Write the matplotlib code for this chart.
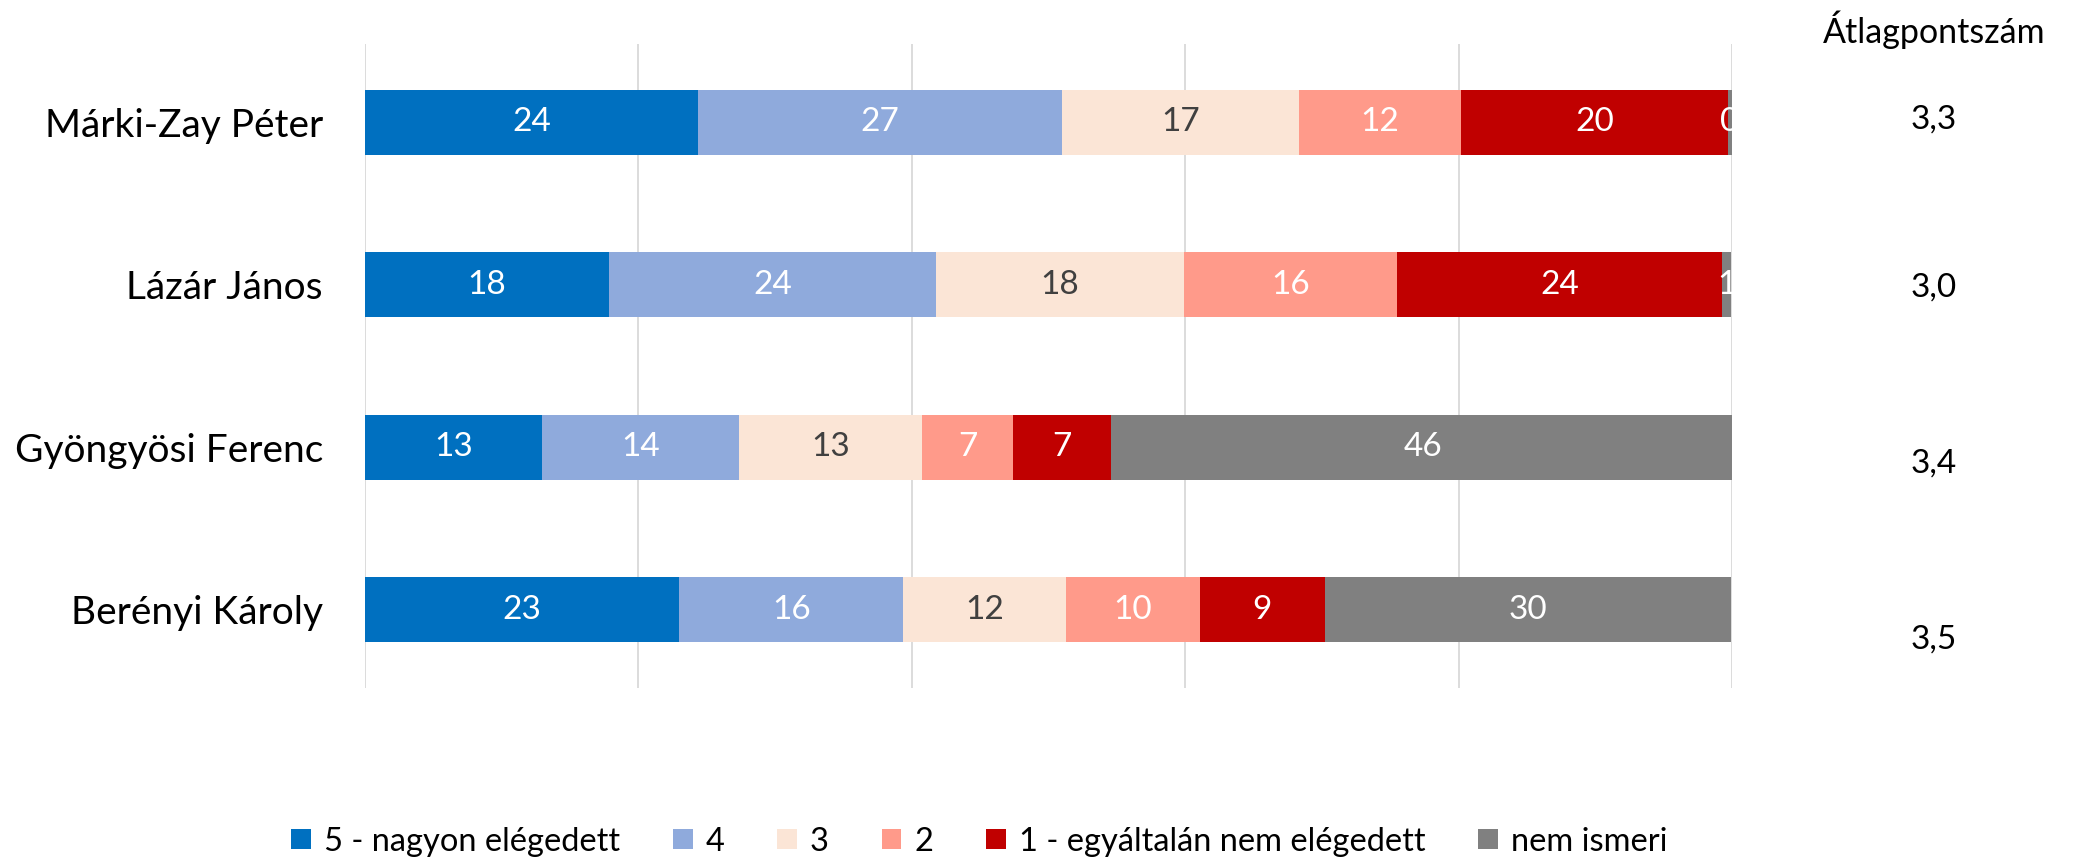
import matplotlib.pyplot as plt
import numpy as np

plt.rcParams['font.family'] = ['Lato', 'DejaVu Sans']

# data
candidates = ["Márki-Zay Péter", "Lázár János", "Gyöngyösi Ferenc", "Berényi Károly"]
series_names = ["5 - nagyon elégedett", "4", "3", "2", "1 - egyáltalán nem elégedett", "nem ismeri"]
s5 = [24.4, 17.9, 13.0, 23.0]
s4 = [26.6, 23.9, 14.4, 16.4]
s3 = [17.3, 18.1, 13.4, 11.9]
s2 = [11.9, 15.6, 6.6, 9.8]
s1 = [19.5, 23.8, 7.2, 9.1]
unknown = [0.3, 0.6, 45.6, 29.7]
averages = ["3,3", "3,0", "3,4", "3,5"]
avg_header = "Átlagpontszám"

colors = ["#0070C0", "#8FAADC", "#FBE5D6", "#FF9A8A", "#C00000", "#808080"]
label_colors = ["white", "white", "#404040", "white", "white", "white"]

fig = plt.figure(figsize=(20.75, 8.64), dpi=100)
ax = fig.add_axes([0.1757, 0.2037, 0.6590, 0.7453])

y = np.arange(len(candidates))
left = np.zeros(len(candidates))
for vals, name, col, lcol in zip([s5, s4, s3, s2, s1, unknown], series_names, colors, label_colors):
    bars = ax.barh(y, vals, left=left, height=0.4, color=col, label=name, zorder=3)
    for b, v in zip(bars, vals):
        ax.text(b.get_x() + b.get_width() / 2, b.get_y() + b.get_height() / 2, f"{v:.0f}",
                ha="center", va="center", color=lcol, fontsize=24, zorder=4, clip_on=True)
    left += np.array(vals)

ax.set_xlim(0, 100)
ax.set_ylim(3.48, -0.48)
ax.set_xticks([0, 20, 40, 60, 80, 100])
ax.set_xticklabels([])
ax.grid(axis="x", color="#D9D9D9", linewidth=1.3, zorder=0)
ax.tick_params(axis="both", length=0)
ax.tick_params(axis="y", pad=30)
ax.set_yticks(y)
ax.set_yticklabels(candidates, fontsize=28)
for s in ax.spines.values():
    s.set_visible(False)

# average scores column
fig.text(0.932, 0.966, avg_header, ha="center", va="center", fontsize=24.5)
for yy, a in zip([0.862, 0.667, 0.464, 0.260], averages):
    fig.text(0.932, yy, a, ha="center", va="center", fontsize=24)

leg = fig.legend(loc="center", bbox_to_anchor=(0.472, 0.026), ncol=6, frameon=False,
                 fontsize=23.5, handlelength=0.6, handleheight=0.6, handletextpad=0.4,
                 columnspacing=1.62)

fig.savefig("out.png", dpi=100)
